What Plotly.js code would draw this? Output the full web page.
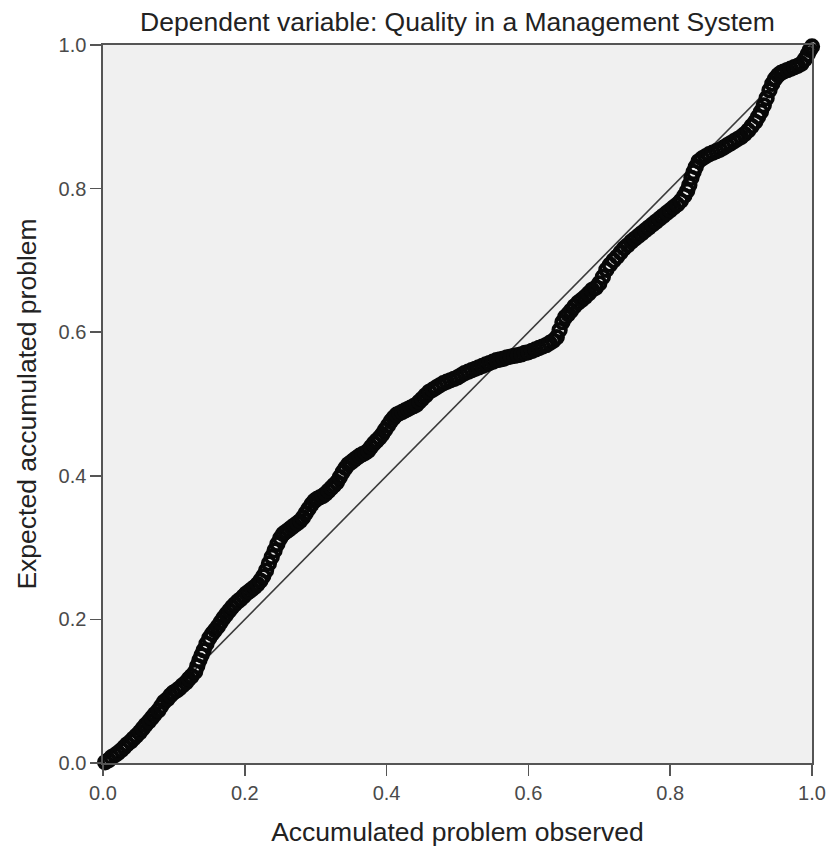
<!DOCTYPE html>
<html>
<head>
<meta charset="utf-8">
<script src="https://cdn.plot.ly/plotly-3.0.1.min.js"></script>
<style>html,body{margin:0;padding:0;background:#fff;}#chart{width:831px;height:849px;}</style>
</head>
<body>
<div id="chart"></div>
<script>
// Observed cumulative probability (x) and expected cumulative probability (y)
const observed = [
  0.003,0.008,0.012,0.017,0.021,0.026,0.030,0.034,0.039,0.043,
  0.047,0.052,0.056,0.060,0.065,0.069,0.073,0.078,0.082,0.086,
  0.091,0.095,0.099,0.104,0.108,0.112,0.117,0.121,0.125,0.130,
  0.133,0.136,0.139,0.142,0.146,0.150,0.154,0.158,0.162,0.166,
  0.170,0.174,0.178,0.182,0.186,0.190,0.194,0.198,0.202,0.206,
  0.210,0.214,0.218,0.222,0.226,0.230,0.234,0.238,0.242,0.246,0.250,
  0.254,0.258,0.262,0.266,0.270,0.274,0.278,0.282,0.286,0.290,
  0.294,0.298,0.302,0.306,0.310,0.314,0.318,0.322,0.326,0.330,
  0.334,0.338,0.342,0.346,0.350,0.354,0.358,0.362,0.366,0.370,
  0.374,0.378,0.382,0.386,0.390,0.394,0.398,0.402,0.406,0.410,
  0.414,0.418,0.422,0.426,0.430,0.434,0.438,0.442,0.446,0.450,
  0.455,0.460,0.465,0.470,0.475,0.480,0.485,0.490,0.495,0.500,
  0.505,0.510,0.515,0.520,0.525,0.530,0.535,0.540,0.545,0.550,
  0.555,0.560,0.565,0.570,0.575,0.580,0.585,0.590,0.595,0.600,
  0.605,0.610,0.615,0.620,0.625,0.630,0.635,0.640,0.644,0.648,
  0.652,0.656,0.660,0.665,0.670,0.675,0.680,0.685,0.690,0.695,
  0.700,0.705,0.710,0.715,0.720,0.725,0.730,0.735,0.740,0.745,
  0.750,0.755,0.760,0.765,0.770,0.775,0.780,0.785,0.790,0.795,
  0.800,0.805,0.810,0.815,0.820,0.824,0.827,0.830,0.833,0.836,0.840,
  0.845,0.850,0.855,0.860,0.865,0.870,0.875,0.880,0.885,0.890,
  0.895,0.900,0.905,0.910,0.915,0.920,0.924,0.928,0.932,0.936,
  0.940,0.944,0.948,0.952,0.956,0.960,0.965,0.970,0.975,0.980,
  0.985,0.990,0.994,0.997,1.000
];
const expected = [
  0.001,0.004,0.008,0.011,0.014,0.018,0.022,0.026,0.030,0.034,
  0.038,0.043,0.048,0.053,0.058,0.063,0.068,0.073,0.079,0.085,
  0.089,0.094,0.098,0.101,0.104,0.108,0.112,0.117,0.121,0.127,
  0.135,0.143,0.150,0.157,0.166,0.174,0.180,0.185,0.190,0.196,
  0.202,0.207,0.212,0.217,0.221,0.225,0.228,0.232,0.236,0.239,
  0.242,0.245,0.249,0.254,0.260,0.268,0.278,0.287,0.296,0.305,0.313,
  0.319,0.322,0.325,0.328,0.331,0.334,0.337,0.342,0.348,0.354,
  0.360,0.365,0.368,0.370,0.372,0.375,0.379,0.383,0.387,0.391,
  0.398,0.405,0.411,0.416,0.419,0.422,0.425,0.428,0.430,0.432,
  0.435,0.440,0.445,0.449,0.453,0.458,0.464,0.470,0.476,0.481,
  0.485,0.487,0.489,0.491,0.493,0.495,0.497,0.499,0.503,0.507,
  0.512,0.517,0.520,0.523,0.526,0.529,0.531,0.533,0.535,0.537,
  0.540,0.543,0.545,0.547,0.549,0.551,0.553,0.555,0.557,0.559,
  0.561,0.562,0.563,0.565,0.566,0.567,0.568,0.569,0.571,0.572,
  0.574,0.576,0.578,0.580,0.582,0.585,0.588,0.593,0.603,0.614,
  0.621,0.625,0.630,0.636,0.641,0.645,0.649,0.654,0.659,0.662,
  0.668,0.677,0.687,0.694,0.700,0.705,0.711,0.717,0.721,0.726,
  0.730,0.734,0.738,0.742,0.746,0.750,0.754,0.758,0.762,0.766,
  0.770,0.774,0.778,0.783,0.790,0.797,0.805,0.815,0.823,0.830,0.838,
  0.842,0.845,0.848,0.850,0.852,0.854,0.857,0.860,0.863,0.866,
  0.869,0.872,0.876,0.881,0.887,0.893,0.900,0.907,0.916,0.926,
  0.937,0.946,0.953,0.958,0.961,0.963,0.965,0.967,0.969,0.971,
  0.974,0.980,0.987,0.993,0.998
];
// Reference diagonal (expected = observed)
const refLine = [0, 1];
const tickVals = [0, 0.2, 0.4, 0.6, 0.8, 1.0];
const tickText = ["0.0", "0.2", "0.4", "0.6", "0.8", "1.0"];

const FONT = "Liberation Sans, Arial, sans-serif";

const traces = [
  {
    x: refLine, y: refLine, type: "scatter", mode: "lines",
    line: {color: "#3a3a3a", width: 1.6},
    hoverinfo: "skip", showlegend: false
  },
  {
    x: observed, y: expected, type: "scatter", mode: "markers",
    marker: {symbol: "circle-open", size: 12.5, color: "#080808", line: {width: 3.8, color: "#080808"}},
    cliponaxis: false, showlegend: false
  }
];

const axisCommon = {
  range: [0, 1], autorange: false,
  tickvals: tickVals, ticktext: tickText,
  ticks: "outside", ticklen: 11, tickwidth: 1.6, tickcolor: "#555",
  showline: true, linecolor: "#555", linewidth: 1.6, mirror: true,
  showgrid: false, zeroline: false,
  tickfont: {family: FONT, size: 20, color: "#4a4a4a"}
};

const layout = {
  width: 831, height: 849,
  margin: {l: 103, r: 19, t: 45, b: 86},
  paper_bgcolor: "#ffffff",
  plot_bgcolor: "#f0f0f0",
  showlegend: false,
  title: {
    text: "Dependent variable: Quality in a Management System",
    font: {family: FONT, size: 26.5, color: "#222"},
    xref: "paper", x: 0.5, xanchor: "center",
    yref: "container", y: 1 - 22/849, yanchor: "middle"
  },
  xaxis: Object.assign({}, axisCommon, {
    title: {text: "Accumulated problem observed", font: {family: FONT, size: 26.5, color: "#222"}, standoff: 20}
  }),
  yaxis: Object.assign({}, axisCommon, {
    title: {text: "Expected accumulated problem", font: {family: FONT, size: 26.5, color: "#222"}, standoff: 14}
  })
};

Plotly.newPlot("chart", traces, layout, {displayModeBar: false, staticPlot: true});
</script>
</body>
</html>
